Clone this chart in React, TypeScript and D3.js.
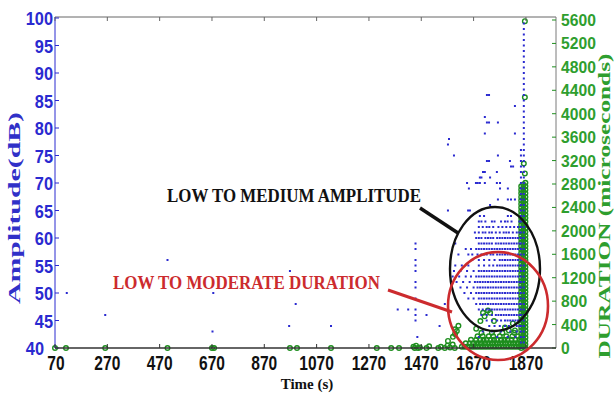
import React from "react";
import * as d3 from "d3";

// ---------- DATA ----------
const xTicks = [70, 270, 470, 670, 870, 1070, 1270, 1470, 1670, 1870];
const ampTicks = [40, 45, 50, 55, 60, 65, 70, 75, 80, 85, 90, 95, 100];
const durTicks = [0, 400, 800, 1200, 1600, 2000, 2400, 2800, 3200, 3600, 4000, 4400, 4800, 5200, 5600];

// sparse amplitude hits [time s, amplitude dB]
const ampSparse: [number, number][] = [
  [115, 50], [262, 46], [500, 56], [675, 50], [672, 43], [965, 44], [990, 48], [968, 54],
  [1125, 44], [1380, 47], [1420, 47],
  [1448, 59], [1448, 58], [1448, 56], [1448, 55], [1448, 54], [1448, 52], [1448, 51],
  [1448, 49], [1448, 47], [1448, 46], [1448, 45], [1455, 42], [1490, 46], [1540, 44], [1560, 48],
  [1721, 86], [1729, 86], [1828, 84], [1713, 82], [1721, 81], [1729, 81], [1763, 81],
  [1713, 79], [1828, 79], [1576, 78], [1572, 77], [1595, 75], [1721, 74], [1729, 74],
  [1763, 75], [1809, 74], [1813, 73], [1821, 73], [1706, 72], [1713, 72], [1759, 72],
  [1694, 71], [1700, 71], [1733, 71], [1645, 70], [1679, 70], [1686, 70], [1694, 70],
  [1713, 70], [1759, 70], [1771, 70], [1652, 69], [1771, 69], [1801, 69], [1763, 67],
  [1801, 67], [1813, 67], [1828, 67], [1572, 65], [1649, 65], [1656, 65], [1733, 66],
  [1694, 64], [1710, 64], [1801, 64], [1813, 64], [1600, 59], [1612, 57], [1590, 52],
];

// dense amplitude rows: [amplitude dB, times s]
const ampRows: [number, number[]][] = [
  [63, [1690, 1700, 1715, 1740, 1750, 1775, 1790, 1800, 1815, 1845]],
  [62, [1690, 1705, 1720, 1730, 1745, 1765, 1780, 1795, 1810, 1825, 1840]],
  [61, [1675, 1690, 1705, 1715, 1730, 1740, 1755, 1770, 1785, 1795, 1805, 1820, 1835, 1845]],
  [60, [1680, 1690, 1700, 1715, 1725, 1735, 1745, 1760, 1770, 1780, 1790, 1800, 1810, 1820, 1830, 1840]],
  [59, [1690, 1700, 1710, 1720, 1730, 1740, 1755, 1765, 1775, 1785, 1795, 1805, 1815, 1825, 1835, 1845]],
  [58, [1640, 1660, 1680, 1690, 1700, 1710, 1720, 1730, 1740, 1750, 1760, 1770, 1780, 1790, 1800, 1810, 1820, 1830, 1840]],
  [57, [1650, 1665, 1685, 1700, 1710, 1720, 1735, 1745, 1760, 1770, 1780, 1790, 1800, 1810, 1820, 1830, 1840]],
  [56, [1665, 1690, 1710, 1730, 1750, 1770, 1780, 1790, 1800, 1810, 1820, 1830, 1840]],
  [55, [1600, 1625, 1650, 1690, 1710, 1730, 1745, 1760, 1770, 1780, 1790, 1800, 1810, 1820, 1830, 1840]],
  [54, [1595, 1620, 1645, 1670, 1690, 1700, 1710, 1720, 1730, 1740, 1750, 1760, 1770, 1780, 1790, 1800, 1810, 1820, 1830, 1840]],
  [53, [1590, 1615, 1640, 1660, 1680, 1690, 1700, 1710, 1720, 1730, 1740, 1750, 1760, 1770, 1780, 1790, 1800, 1810, 1820, 1830, 1840]],
  [52, [1605, 1630, 1655, 1675, 1685, 1695, 1705, 1715, 1725, 1735, 1745, 1755, 1765, 1775, 1785, 1795, 1805, 1815, 1825, 1835, 1845]],
  [51, [1620, 1645, 1670, 1685, 1695, 1705, 1715, 1725, 1735, 1745, 1755, 1765, 1775, 1785, 1795, 1805, 1815, 1825, 1835, 1845]],
  [50, [1635, 1660, 1680, 1690, 1700, 1710, 1720, 1730, 1740, 1750, 1760, 1770, 1780, 1790, 1800, 1810, 1820, 1830, 1840]],
  [49, [1650, 1670, 1690, 1700, 1710, 1720, 1730, 1740, 1750, 1760, 1770, 1780, 1790, 1800, 1810, 1820, 1830, 1840]],
  [48, [1680, 1695, 1705, 1715, 1725, 1735, 1745, 1755, 1765, 1775, 1785, 1795, 1805, 1815, 1825, 1835, 1845]],
  [47, [1690, 1705, 1720, 1730, 1740, 1750, 1760, 1770, 1780, 1790, 1800, 1810, 1820, 1830, 1840]],
  [46, [1700, 1720, 1740, 1755, 1765, 1775, 1785, 1795, 1805, 1815, 1825, 1835, 1845]],
  [45, [1720, 1740, 1760, 1775, 1790, 1800, 1810, 1820, 1830, 1840]],
  [44, [1730, 1750, 1770, 1790, 1805, 1820, 1835, 1845]],
  [43, [1705, 1740, 1775, 1810, 1835]],
  [42, [1690, 1760, 1800, 1830]],
];

// vertical amplitude columns near the end of the test: [time s, amplitudes dB]
const ampColumns: [number, number[]][] = [
  [1862, [40, 41, 42, 43, 44, 45, 46, 47, 48, 49, 50, 51, 52, 53, 54, 55, 56, 57, 58, 59, 60, 61, 62, 63, 64, 65, 66, 67, 68, 69, 70, 71, 72, 73, 74, 75, 76, 77, 78, 79, 80, 81, 82, 83, 84, 85, 86, 87, 88, 89, 90, 91, 92, 93, 94, 95, 96, 97, 98, 99]],
  [1851, [40, 41, 42, 43, 44, 45, 46, 47, 48, 49, 50, 51, 52, 53, 54, 55, 56, 57, 58, 59, 60, 61, 62, 63, 64, 65, 66, 67, 68, 69, 70, 71, 72, 73, 74, 75, 76]],
];

// sparse duration hits [time s, duration us]
const durSparse: [number, number][] = [
  [70, 0], [112, 0], [262, 0], [500, 0], [670, 0], [678, 0], [968, 0], [995, 0], [1125, 0],
  [1300, 0], [1355, 0], [1385, 0], [1440, 20], [1445, 0], [1450, 40], [1458, 0], [1465, 10],
  [1490, 0], [1500, 30], [1535, 0], [1545, 20], [1560, 0], [1570, 40], [1580, 10], [1590, 60],
  [1598, 0], [1572, 120], [1591, 190], [1599, 240], [1599, 320], [1606, 290], [1612, 380],
  [1696, 460], [1706, 600], [1712, 540], [1725, 640], [1733, 600], [1748, 460], [1790, 350],
  [1805, 300], [1820, 420], [1828, 300], [1680, 330],
  [1866, 5580], [1866, 4280], [1862, 3150], [1866, 2980],
];

// dense duration rows: [duration us, times s]
const durRows: [number, number[]][] = [
  [20, [1625, 1635, 1645, 1655, 1665, 1675, 1685, 1695, 1705, 1715, 1725, 1735, 1745, 1755, 1765, 1775, 1785, 1795, 1805, 1815, 1825, 1835, 1845]],
  [80, [1640, 1655, 1668, 1680, 1690, 1700, 1712, 1722, 1732, 1742, 1752, 1762, 1772, 1782, 1792, 1802, 1812, 1822, 1832, 1842]],
  [140, [1660, 1680, 1695, 1708, 1720, 1735, 1748, 1760, 1775, 1788, 1800, 1815, 1830, 1845]],
  [200, [1685, 1705, 1728, 1745, 1770, 1795, 1818, 1840]],
  [260, [1700, 1740, 1780, 1825]],
];

// densely hit duration column at the end of the test: [time s, durations us]
const durColumns: [number, number[]][] = [
  [1852, [0, 60, 120, 180, 240, 300, 360, 420, 480, 540, 600, 660, 720, 780, 840, 900, 960, 1020, 1080, 1140, 1200, 1260, 1320, 1380, 1440, 1500, 1560, 1620, 1680, 1740, 1800, 1860, 1920, 1980, 2040, 2100, 2160, 2220, 2280, 2340, 2400, 2460, 2520, 2580, 2640, 2700, 2760]],
  [1860, [30, 90, 150, 210, 270, 330, 390, 450, 510, 570, 630, 690, 750, 810, 870, 930, 990, 1050, 1110, 1170, 1230, 1290, 1350, 1410, 1470, 1530, 1590, 1650, 1710, 1770, 1830, 1890, 1950, 2010, 2070, 2130, 2190, 2250, 2310, 2370, 2430, 2490, 2550, 2610, 2670, 2730, 2790]],
  [1868, [0, 60, 120, 180, 240, 300, 360, 420, 480, 540, 600, 660, 720, 780, 840, 900, 960, 1020, 1080, 1140, 1200, 1260, 1320, 1380, 1440, 1500, 1560, 1620, 1680, 1740, 1800, 1860, 1920, 1980, 2040, 2100, 2160, 2220, 2280, 2340, 2400, 2460, 2520, 2580, 2640, 2700, 2760, 2820]],
];

// ---------- LAYOUT ----------
const W = 614, H = 394;
const L = 55, R = 556, T = 18, B = 348;
const BLUE = "#2a2ad0";
const GREEN = "#1e8e1e";
const GREEN_T = "#2e9e2e";
const RED = "#cc2b2e";

const x = d3.scaleLinear().domain([70, 1985]).range([L, R]);
const yA = d3.scaleLinear().domain([40, 100]).range([B, T]);
const yD = d3.scaleLinear().domain([0, 5600]).range([B, T + 2]);

const sans = "'Liberation Sans', Arial, sans-serif";
const serif = "'Liberation Serif', 'Times New Roman', serif";

function Num({ x0, y0, text, anchor, size, sx, fill }: any) {
  return (
    <text
      transform={`translate(${x0},${y0}) scale(${sx},1)`}
      textAnchor={anchor}
      fontFamily={sans}
      fontWeight="bold"
      fontSize={size}
      fill={fill}
    >
      {text}
    </text>
  );
}

export default function App() {
  const ampPts: [number, number][] = [...ampSparse];
  ampRows.forEach(([a, ts]) => ts.forEach((t) => ampPts.push([t, a])));
  ampColumns.forEach(([t, as]) => as.forEach((a) => ampPts.push([t, a])));
  const durPts: [number, number][] = [...durSparse];
  durRows.forEach(([d, ts]) => ts.forEach((t) => durPts.push([t, d])));
  durColumns.forEach(([t, ds]) => ds.forEach((d) => durPts.push([t, d])));

  return (
    <svg width={W} height={H} style={{ position: "absolute", left: 0, top: 0, background: "#fff" }}>
      <rect x={0} y={0} width={W} height={H} fill="#fff" />
      {/* box */}
      <line x1={L} x2={R} y1={T - 1} y2={T - 1} stroke="#666" strokeWidth={1} />
      <line x1={R} x2={R} y1={T - 1} y2={B} stroke="#7a7a7a" strokeWidth={1} />

      {/* duration circles (green) */}
      {durPts.map(([t, d], i) => (
        <circle key={"d" + i} cx={x(t)} cy={yD(d)} r={2.3} fill="none" stroke={GREEN} strokeWidth={1.4} />
      ))}
      {/* amplitude dots (blue) */}
      {ampPts.map(([t, a], i) => (
        <rect key={"a" + i} x={x(t) - 1} y={yA(a) - 1} width={2} height={2} fill={BLUE} />
      ))}

      {/* left axis */}
      <line x1={L} x2={L} y1={T - 1} y2={B} stroke={BLUE} strokeWidth={1} />
      {ampTicks.map((v) => (
        <g key={"la" + v}>
          <line x1={L} x2={L + 4} y1={yA(v)} y2={yA(v)} stroke={BLUE} />
          <Num x0={v === 40 ? 44 : 53} y0={yA(v) + 7} text={v} anchor="end" size={19} sx={0.86} fill={BLUE} />
        </g>
      ))}
      {/* right axis */}
      {durTicks.map((v) => (
        <g key={"ra" + v}>
          <line x1={R - 4} x2={R} y1={yD(v)} y2={yD(v)} stroke={GREEN} />
          <Num x0={R + 5} y0={yD(v) + 6} text={v} anchor="start" size={16.5} sx={0.95} fill={GREEN_T} />
        </g>
      ))}
      {/* bottom axis */}
      <line x1={L} x2={R} y1={B} y2={B} stroke="#333" strokeWidth={1.6} />
      {xTicks.map((v) => (
        <g key={"x" + v}>
          <line x1={x(v)} x2={x(v)} y1={B} y2={B - 4} stroke="#333" />
          <line x1={x(v)} x2={x(v)} y1={T - 1} y2={T + 3} stroke="#666" />
          <Num x0={x(v) + (v === 70 ? 1 : 0)} y0={370} text={v} anchor="middle" size={21} sx={0.74} fill="#111" />
        </g>
      ))}

      {/* axis titles */}
      <text
        transform={`translate(20,208) rotate(-90)`}
        textAnchor="middle"
        fontFamily={serif}
        fontWeight="bold"
        fontSize={17}
        fill="#3030c8"
        textLength={192}
        lengthAdjust="spacingAndGlyphs"
      >
        Amplitude(dB)
      </text>
      <text
        transform={`translate(610,206) rotate(-90)`}
        textAnchor="middle"
        fontFamily={serif}
        fontWeight="bold"
        fontSize={17}
        fill={GREEN_T}
        textLength={305}
        lengthAdjust="spacingAndGlyphs"
      >
        DURATION (microseconds)
      </text>
      <text x={307} y={389} textAnchor="middle" fontFamily={serif} fontWeight="bold" fontSize={15} fill="#111">
        Time (s)
      </text>

      {/* annotations */}
      <text x={167} y={202} fontFamily={serif} fontWeight="bold" fontSize={18} fill="#111" textLength={254} lengthAdjust="spacingAndGlyphs">
        LOW TO MEDIUM AMPLITUDE
      </text>
      <line x1={420} y1={208} x2={458} y2={233} stroke="#111" strokeWidth={3.5} />
      <ellipse cx={495} cy={269} rx={45} ry={62} fill="none" stroke="#111" strokeWidth={2.4} />

      <text x={113} y={289} fontFamily={serif} fontWeight="bold" fontSize={18} fill={RED} textLength={267} lengthAdjust="spacingAndGlyphs">
        LOW TO MODERATE DURATION
      </text>
      <line x1={388} y1={290} x2={452} y2={312} stroke={RED} strokeWidth={3} />
      <ellipse cx={498} cy={306} rx={50} ry={54} fill="none" stroke={RED} strokeWidth={2.6} />
    </svg>
  );
}
